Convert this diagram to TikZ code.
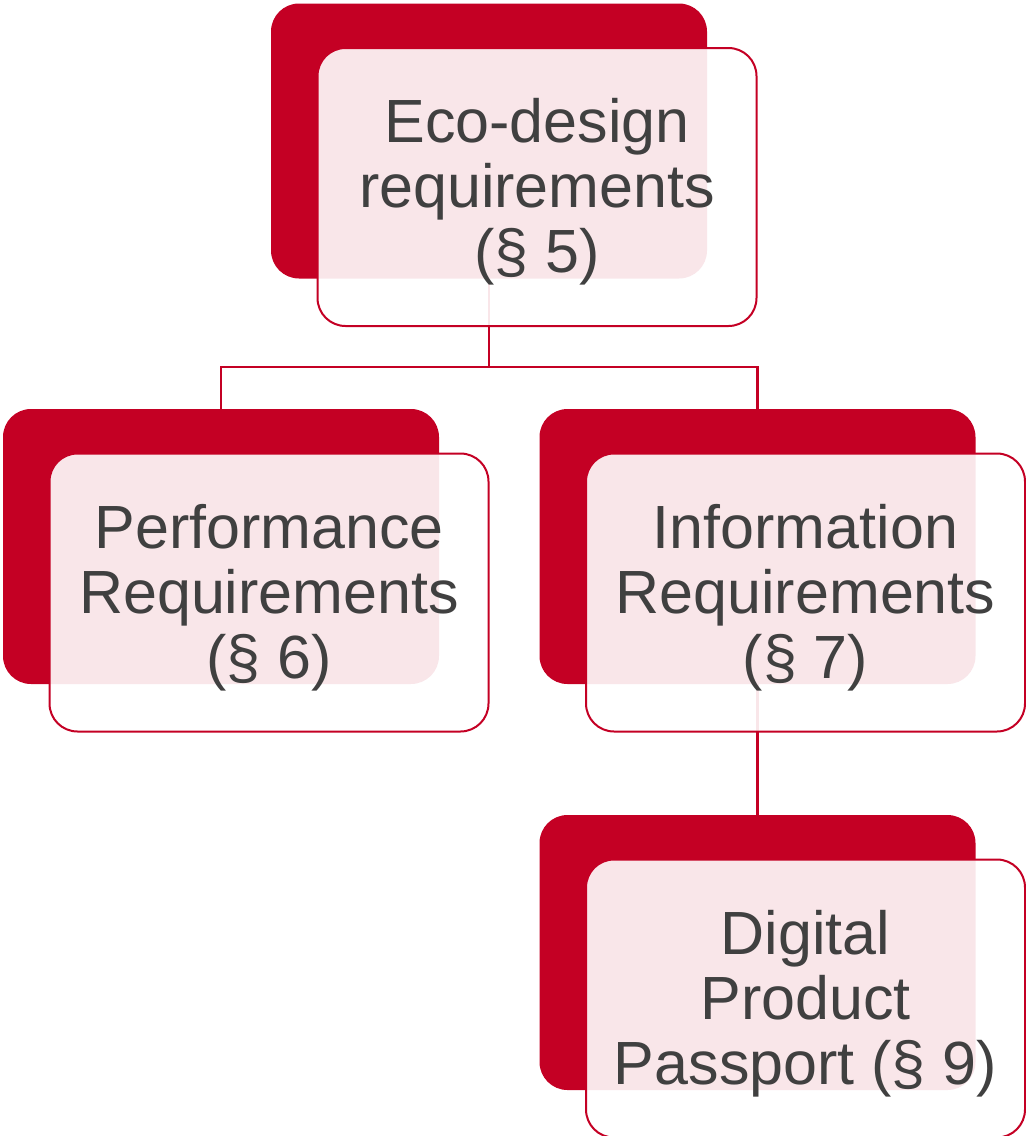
\documentclass[tikz,border=0pt]{standalone}
\usepackage{fontspec}
\setmainfont{Liberation Sans}
\usetikzlibrary{positioning}
\definecolor{ecored}{HTML}{C40024}
\definecolor{textgray}{HTML}{404040}
\newcommand{\topstrut}{\rule{0pt}{27pt}}

\begin{document}
\begin{tikzpicture}[x=0.5pt,y=-0.5pt,
	backbox/.style={fill=ecored, draw=none, rounded corners=14pt,
		minimum width=218pt, minimum height=137.5pt, inner sep=0pt},
	frontbox/.style={fill=white, fill opacity=0.9, text opacity=1,
		draw=ecored, line width=1pt, rounded corners=14pt,
		minimum width=219.5pt, minimum height=139pt, inner sep=0pt,
		align=center, text=textgray,
		font=\fontsize{30.5}{32.5}\selectfont},
	link/.style={draw=ecored, line width=1.3pt}]
	\useasboundingbox (0,0) rectangle (1026,1136);
	% red blocks at the back
	\node[backbox] (ecob) at (489,141) {};
	\node[backbox] (perfb) at (221,546.5) {};
	\node[backbox] (infob) at (757.5,546.5) {};
	\node[backbox] (dppb) at (757.5,952.5) {};
	% Draw links
	\draw[link] (ecob.south) -- ++(0,88) coordinate (split) -| (perfb.north);
	\draw[link] (split) -| (infob.north);
	\draw[link] (infob.south) -- (dppb.north);
	% white boxes with the texts
	\node[frontbox] (eco) at ([shift={(48,46)}]ecob.center)
		{\topstrut Eco-design\\requirements\\(§ 5)};
	\node[frontbox] (perf) at ([shift={(48,46)}]perfb.center)
		{\topstrut Performance\\Requirements\\(§ 6)};
	\node[frontbox] (info) at ([shift={(48,46)}]infob.center)
		{\topstrut Information\\Requirements\\(§ 7)};
	\node[frontbox] (dpp) at ([shift={(48,46)}]dppb.center)
		{\topstrut Digital\\Product\\Passport (§ 9)};
\end{tikzpicture}
\end{document}
